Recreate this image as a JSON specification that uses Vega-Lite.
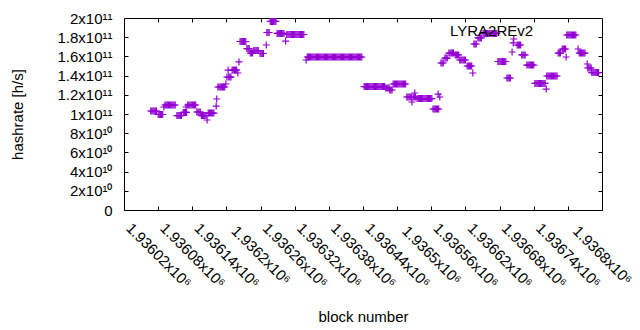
{
"$schema": "https://vega.github.io/schema/vega-lite/v6.json",
"width": 478,
"height": 192,
"autosize": {"type": "none"},
"padding": {"left": 124, "top": 18, "right": 38, "bottom": 120},
"background": "white",
"config": {
  "view": {"stroke": "black", "strokeWidth": 1},
  "font": "Liberation Sans",
  "axis": {"domain": false, "grid": false, "tickColor": "black", "tickWidth": 1, "tickSize": -4, "labelColor": "black", "labelFont": "Liberation Sans", "labelFontSize": 15, "titleFont": "Liberation Sans", "titleFontSize": 15, "titleFontWeight": "normal", "titleColor": "black", "labelOverlap": false, "labelFlush": false, "labelBound": false}
},
"layer": [
  {
    "data": {"values": [
{"block":1936007,"hashrate":1.031e11},{"block":1936009,"hashrate":1.031e11},{"block":1936011,"hashrate":1.031e11},{"block":1936013,"hashrate":1.031e11},{"block":1936015,"hashrate":1.031e11},{"block":1936017,"hashrate":1.031e11},
{"block":1936020,"hashrate":9.95e10},{"block":1936022,"hashrate":9.95e10},{"block":1936024,"hashrate":9.95e10},{"block":1936026,"hashrate":9.95e10},{"block":1936028,"hashrate":9.95e10},
{"block":1936030,"hashrate":1.073e11},
{"block":1936032,"hashrate":1.094e11},{"block":1936034,"hashrate":1.094e11},{"block":1936036,"hashrate":1.094e11},{"block":1936038,"hashrate":1.094e11},{"block":1936040,"hashrate":1.094e11},{"block":1936042,"hashrate":1.094e11},{"block":1936044,"hashrate":1.094e11},{"block":1936046,"hashrate":1.094e11},{"block":1936048,"hashrate":1.094e11},{"block":1936050,"hashrate":1.094e11},
{"block":1936053,"hashrate":9.84e10},{"block":1936055,"hashrate":9.84e10},{"block":1936057,"hashrate":9.84e10},{"block":1936059,"hashrate":9.84e10},{"block":1936061,"hashrate":9.84e10},
{"block":1936064,"hashrate":1.016e11},{"block":1936066,"hashrate":1.016e11},{"block":1936068,"hashrate":1.016e11},{"block":1936069,"hashrate":1.073e11},{"block":1936070,"hashrate":1.016e11},
{"block":1936072,"hashrate":1.094e11},{"block":1936074,"hashrate":1.094e11},{"block":1936076,"hashrate":1.094e11},{"block":1936078,"hashrate":1.094e11},{"block":1936080,"hashrate":1.094e11},{"block":1936082,"hashrate":1.094e11},{"block":1936084,"hashrate":1.094e11},{"block":1936086,"hashrate":1.094e11},
{"block":1936088,"hashrate":1.021e11},{"block":1936090,"hashrate":1.021e11},{"block":1936092,"hashrate":1.021e11},{"block":1936094,"hashrate":1.021e11},
{"block":1936096,"hashrate":9.84e10},{"block":1936098,"hashrate":9.84e10},{"block":1936100,"hashrate":9.84e10},{"block":1936102,"hashrate":9.84e10},{"block":1936104,"hashrate":9.84e10},{"block":1936106,"hashrate":9.375e10},
{"block":1936108,"hashrate":1.01e11},{"block":1936110,"hashrate":1.01e11},{"block":1936112,"hashrate":1.01e11},{"block":1936114,"hashrate":1.01e11},{"block":1936116,"hashrate":1.01e11},{"block":1936118,"hashrate":1.01e11},
{"block":1936122,"hashrate":1.083e11},{"block":1936123,"hashrate":1.156e11},
{"block":1936125,"hashrate":1.281e11},{"block":1936127,"hashrate":1.281e11},{"block":1936129,"hashrate":1.281e11},{"block":1936131,"hashrate":1.281e11},{"block":1936133,"hashrate":1.281e11},{"block":1936135,"hashrate":1.281e11},{"block":1936137,"hashrate":1.281e11},{"block":1936139,"hashrate":1.3125e11},
{"block":1936141,"hashrate":1.385e11},{"block":1936143,"hashrate":1.458e11},{"block":1936144,"hashrate":1.385e11},{"block":1936146,"hashrate":1.385e11},{"block":1936148,"hashrate":1.385e11},
{"block":1936150,"hashrate":1.458e11},{"block":1936152,"hashrate":1.458e11},{"block":1936154,"hashrate":1.458e11},{"block":1936156,"hashrate":1.458e11},{"block":1936158,"hashrate":1.458e11},{"block":1936160,"hashrate":1.427e11},
{"block":1936162,"hashrate":1.542e11},
{"block":1936164,"hashrate":1.755e11},{"block":1936166,"hashrate":1.755e11},{"block":1936168,"hashrate":1.755e11},{"block":1936170,"hashrate":1.755e11},{"block":1936172,"hashrate":1.755e11},{"block":1936174,"hashrate":1.755e11},
{"block":1936176,"hashrate":1.682e11},{"block":1936178,"hashrate":1.682e11},{"block":1936180,"hashrate":1.682e11},
{"block":1936182,"hashrate":1.635e11},{"block":1936184,"hashrate":1.635e11},{"block":1936186,"hashrate":1.635e11},
{"block":1936188,"hashrate":1.661e11},{"block":1936190,"hashrate":1.661e11},{"block":1936192,"hashrate":1.661e11},{"block":1936194,"hashrate":1.661e11},{"block":1936196,"hashrate":1.661e11},
{"block":1936199,"hashrate":1.63e11},{"block":1936201,"hashrate":1.63e11},{"block":1936203,"hashrate":1.63e11},{"block":1936205,"hashrate":1.63e11},
{"block":1936210,"hashrate":1.719e11},
{"block":1936211,"hashrate":1.849e11},{"block":1936213,"hashrate":1.849e11},{"block":1936215,"hashrate":1.849e11},
{"block":1936217,"hashrate":1.964e11},{"block":1936219,"hashrate":1.964e11},{"block":1936221,"hashrate":1.964e11},{"block":1936223,"hashrate":1.964e11},{"block":1936225,"hashrate":1.964e11},{"block":1936227,"hashrate":1.964e11},
{"block":1936229,"hashrate":1.839e11},{"block":1936231,"hashrate":1.839e11},{"block":1936233,"hashrate":1.839e11},{"block":1936235,"hashrate":1.839e11},{"block":1936237,"hashrate":1.839e11},{"block":1936239,"hashrate":1.839e11},{"block":1936241,"hashrate":1.839e11},
{"block":1936244,"hashrate":1.76e11},
{"block":1936246,"hashrate":1.828e11},{"block":1936248,"hashrate":1.828e11},{"block":1936250,"hashrate":1.828e11},{"block":1936252,"hashrate":1.828e11},{"block":1936254,"hashrate":1.828e11},{"block":1936256,"hashrate":1.828e11},{"block":1936258,"hashrate":1.828e11},{"block":1936260,"hashrate":1.828e11},{"block":1936262,"hashrate":1.828e11},{"block":1936264,"hashrate":1.828e11},{"block":1936266,"hashrate":1.828e11},{"block":1936268,"hashrate":1.828e11},{"block":1936270,"hashrate":1.828e11},{"block":1936272,"hashrate":1.828e11},{"block":1936274,"hashrate":1.828e11},{"block":1936276,"hashrate":1.828e11},
{"block":1936280,"hashrate":1.5625e11},
{"block":1936282,"hashrate":1.594e11},{"block":1936284,"hashrate":1.594e11},{"block":1936286,"hashrate":1.594e11},{"block":1936288,"hashrate":1.594e11},{"block":1936290,"hashrate":1.594e11},{"block":1936292,"hashrate":1.594e11},{"block":1936294,"hashrate":1.594e11},{"block":1936296,"hashrate":1.594e11},{"block":1936298,"hashrate":1.594e11},{"block":1936300,"hashrate":1.594e11},{"block":1936302,"hashrate":1.594e11},{"block":1936304,"hashrate":1.594e11},{"block":1936306,"hashrate":1.594e11},{"block":1936308,"hashrate":1.594e11},{"block":1936310,"hashrate":1.594e11},{"block":1936312,"hashrate":1.594e11},{"block":1936314,"hashrate":1.594e11},{"block":1936316,"hashrate":1.594e11},{"block":1936318,"hashrate":1.594e11},{"block":1936320,"hashrate":1.594e11},{"block":1936322,"hashrate":1.594e11},{"block":1936324,"hashrate":1.594e11},{"block":1936326,"hashrate":1.594e11},{"block":1936328,"hashrate":1.594e11},{"block":1936330,"hashrate":1.594e11},{"block":1936332,"hashrate":1.594e11},{"block":1936334,"hashrate":1.594e11},{"block":1936336,"hashrate":1.594e11},{"block":1936338,"hashrate":1.594e11},{"block":1936340,"hashrate":1.594e11},{"block":1936342,"hashrate":1.594e11},{"block":1936344,"hashrate":1.594e11},{"block":1936346,"hashrate":1.594e11},{"block":1936348,"hashrate":1.594e11},{"block":1936350,"hashrate":1.594e11},{"block":1936352,"hashrate":1.594e11},{"block":1936354,"hashrate":1.594e11},{"block":1936356,"hashrate":1.594e11},{"block":1936358,"hashrate":1.594e11},{"block":1936360,"hashrate":1.594e11},{"block":1936362,"hashrate":1.594e11},{"block":1936364,"hashrate":1.594e11},{"block":1936366,"hashrate":1.594e11},{"block":1936368,"hashrate":1.594e11},{"block":1936370,"hashrate":1.594e11},{"block":1936372,"hashrate":1.594e11},{"block":1936374,"hashrate":1.594e11},{"block":1936376,"hashrate":1.594e11},{"block":1936378,"hashrate":1.594e11},
{"block":1936382,"hashrate":1.286e11},{"block":1936384,"hashrate":1.286e11},{"block":1936386,"hashrate":1.286e11},{"block":1936388,"hashrate":1.286e11},{"block":1936390,"hashrate":1.286e11},{"block":1936392,"hashrate":1.286e11},{"block":1936394,"hashrate":1.286e11},{"block":1936396,"hashrate":1.286e11},{"block":1936398,"hashrate":1.286e11},{"block":1936400,"hashrate":1.286e11},{"block":1936402,"hashrate":1.286e11},{"block":1936404,"hashrate":1.286e11},{"block":1936406,"hashrate":1.286e11},{"block":1936408,"hashrate":1.286e11},{"block":1936410,"hashrate":1.286e11},{"block":1936412,"hashrate":1.286e11},{"block":1936414,"hashrate":1.286e11},{"block":1936416,"hashrate":1.286e11},{"block":1936418,"hashrate":1.286e11},
{"block":1936420,"hashrate":1.271e11},{"block":1936422,"hashrate":1.271e11},{"block":1936424,"hashrate":1.271e11},{"block":1936426,"hashrate":1.271e11},
{"block":1936427,"hashrate":1.25e11},{"block":1936429,"hashrate":1.25e11},{"block":1936431,"hashrate":1.25e11},
{"block":1936433,"hashrate":1.3125e11},{"block":1936435,"hashrate":1.3125e11},{"block":1936437,"hashrate":1.3125e11},{"block":1936439,"hashrate":1.3125e11},{"block":1936441,"hashrate":1.3125e11},{"block":1936443,"hashrate":1.3125e11},{"block":1936445,"hashrate":1.3125e11},{"block":1936447,"hashrate":1.3125e11},{"block":1936449,"hashrate":1.3125e11},{"block":1936451,"hashrate":1.3125e11},{"block":1936453,"hashrate":1.3125e11},{"block":1936455,"hashrate":1.3125e11},
{"block":1936457,"hashrate":1.177e11},{"block":1936459,"hashrate":1.177e11},{"block":1936461,"hashrate":1.177e11},{"block":1936463,"hashrate":1.177e11},{"block":1936465,"hashrate":1.177e11},{"block":1936466,"hashrate":1.125e11},{"block":1936468,"hashrate":1.177e11},{"block":1936470,"hashrate":1.177e11},{"block":1936471,"hashrate":1.219e11},{"block":1936472,"hashrate":1.177e11},
{"block":1936475,"hashrate":1.161e11},{"block":1936477,"hashrate":1.161e11},{"block":1936479,"hashrate":1.161e11},{"block":1936481,"hashrate":1.161e11},{"block":1936483,"hashrate":1.161e11},{"block":1936485,"hashrate":1.161e11},{"block":1936487,"hashrate":1.161e11},{"block":1936489,"hashrate":1.161e11},{"block":1936491,"hashrate":1.161e11},{"block":1936493,"hashrate":1.161e11},{"block":1936495,"hashrate":1.161e11},{"block":1936497,"hashrate":1.161e11},{"block":1936499,"hashrate":1.161e11},{"block":1936501,"hashrate":1.161e11},
{"block":1936503,"hashrate":1.052e11},{"block":1936505,"hashrate":1.052e11},{"block":1936507,"hashrate":1.052e11},{"block":1936509,"hashrate":1.052e11},{"block":1936511,"hashrate":1.052e11},{"block":1936512,"hashrate":1.208e11},{"block":1936513,"hashrate":1.052e11},{"block":1936515,"hashrate":1.177e11},
{"block":1936517,"hashrate":1.531e11},{"block":1936519,"hashrate":1.531e11},{"block":1936521,"hashrate":1.531e11},
{"block":1936524,"hashrate":1.583e11},{"block":1936526,"hashrate":1.583e11},{"block":1936528,"hashrate":1.583e11},
{"block":1936531,"hashrate":1.635e11},{"block":1936533,"hashrate":1.635e11},{"block":1936535,"hashrate":1.635e11},{"block":1936537,"hashrate":1.635e11},{"block":1936539,"hashrate":1.635e11},
{"block":1936542,"hashrate":1.615e11},{"block":1936544,"hashrate":1.615e11},{"block":1936546,"hashrate":1.615e11},{"block":1936548,"hashrate":1.615e11},
{"block":1936550,"hashrate":1.5625e11},{"block":1936552,"hashrate":1.5625e11},{"block":1936554,"hashrate":1.5625e11},{"block":1936556,"hashrate":1.5625e11},{"block":1936558,"hashrate":1.5625e11},{"block":1936560,"hashrate":1.5625e11},
{"block":1936563,"hashrate":1.5e11},{"block":1936565,"hashrate":1.5e11},{"block":1936567,"hashrate":1.5e11},{"block":1936569,"hashrate":1.5e11},{"block":1936571,"hashrate":1.5e11},{"block":1936573,"hashrate":1.427e11},
{"block":1936575,"hashrate":1.729e11},{"block":1936577,"hashrate":1.729e11},{"block":1936579,"hashrate":1.729e11},
{"block":1936582,"hashrate":1.792e11},{"block":1936584,"hashrate":1.792e11},{"block":1936586,"hashrate":1.792e11},{"block":1936588,"hashrate":1.792e11},
{"block":1936591,"hashrate":1.839e11},{"block":1936593,"hashrate":1.839e11},{"block":1936595,"hashrate":1.839e11},{"block":1936597,"hashrate":1.839e11},{"block":1936599,"hashrate":1.839e11},{"block":1936601,"hashrate":1.839e11},{"block":1936603,"hashrate":1.839e11},{"block":1936605,"hashrate":1.839e11},{"block":1936607,"hashrate":1.839e11},{"block":1936609,"hashrate":1.839e11},{"block":1936611,"hashrate":1.839e11},{"block":1936613,"hashrate":1.839e11},{"block":1936615,"hashrate":1.839e11},
{"block":1936617,"hashrate":1.547e11},{"block":1936619,"hashrate":1.547e11},{"block":1936621,"hashrate":1.547e11},{"block":1936623,"hashrate":1.547e11},{"block":1936625,"hashrate":1.547e11},{"block":1936627,"hashrate":1.547e11},{"block":1936629,"hashrate":1.547e11},{"block":1936631,"hashrate":1.547e11},
{"block":1936633,"hashrate":1.375e11},{"block":1936635,"hashrate":1.375e11},{"block":1936637,"hashrate":1.375e11},{"block":1936639,"hashrate":1.375e11},
{"block":1936642,"hashrate":1.646e11},{"block":1936644,"hashrate":1.74e11},{"block":1936645,"hashrate":1.781e11},
{"block":1936651,"hashrate":1.719e11},{"block":1936653,"hashrate":1.719e11},{"block":1936655,"hashrate":1.719e11},{"block":1936657,"hashrate":1.719e11},
{"block":1936659,"hashrate":1.615e11},{"block":1936661,"hashrate":1.615e11},{"block":1936663,"hashrate":1.615e11},{"block":1936665,"hashrate":1.615e11},
{"block":1936668,"hashrate":1.51e11},{"block":1936670,"hashrate":1.51e11},{"block":1936672,"hashrate":1.51e11},{"block":1936674,"hashrate":1.51e11},{"block":1936676,"hashrate":1.51e11},{"block":1936678,"hashrate":1.51e11},{"block":1936680,"hashrate":1.51e11},
{"block":1936682,"hashrate":1.318e11},{"block":1936684,"hashrate":1.318e11},{"block":1936686,"hashrate":1.318e11},{"block":1936688,"hashrate":1.318e11},{"block":1936690,"hashrate":1.318e11},{"block":1936692,"hashrate":1.318e11},{"block":1936694,"hashrate":1.318e11},{"block":1936696,"hashrate":1.318e11},{"block":1936698,"hashrate":1.318e11},{"block":1936700,"hashrate":1.318e11},{"block":1936702,"hashrate":1.26e11},
{"block":1936703,"hashrate":1.396e11},{"block":1936705,"hashrate":1.396e11},{"block":1936707,"hashrate":1.396e11},{"block":1936709,"hashrate":1.396e11},{"block":1936711,"hashrate":1.396e11},{"block":1936713,"hashrate":1.396e11},{"block":1936715,"hashrate":1.396e11},{"block":1936717,"hashrate":1.396e11},{"block":1936719,"hashrate":1.396e11},{"block":1936721,"hashrate":1.396e11},
{"block":1936723,"hashrate":1.635e11},{"block":1936725,"hashrate":1.635e11},{"block":1936727,"hashrate":1.635e11},
{"block":1936730,"hashrate":1.677e11},{"block":1936732,"hashrate":1.677e11},{"block":1936734,"hashrate":1.677e11},{"block":1936736,"hashrate":1.677e11},{"block":1936737,"hashrate":1.594e11},
{"block":1936738,"hashrate":1.823e11},{"block":1936740,"hashrate":1.823e11},{"block":1936742,"hashrate":1.823e11},{"block":1936744,"hashrate":1.823e11},{"block":1936746,"hashrate":1.823e11},{"block":1936748,"hashrate":1.823e11},{"block":1936750,"hashrate":1.823e11},{"block":1936752,"hashrate":1.823e11},{"block":1936754,"hashrate":1.823e11},
{"block":1936758,"hashrate":1.677e11},
{"block":1936760,"hashrate":1.635e11},{"block":1936762,"hashrate":1.635e11},{"block":1936764,"hashrate":1.635e11},{"block":1936766,"hashrate":1.635e11},{"block":1936768,"hashrate":1.635e11},{"block":1936770,"hashrate":1.635e11},
{"block":1936774,"hashrate":1.521e11},
{"block":1936775,"hashrate":1.479e11},{"block":1936777,"hashrate":1.479e11},{"block":1936779,"hashrate":1.479e11},{"block":1936781,"hashrate":1.479e11},
{"block":1936782,"hashrate":1.432e11},{"block":1936784,"hashrate":1.432e11},{"block":1936786,"hashrate":1.432e11},{"block":1936788,"hashrate":1.432e11},{"block":1936790,"hashrate":1.432e11},{"block":1936792,"hashrate":1.432e11},{"block":1936794,"hashrate":1.432e11}
    ]},
    "mark": {"type": "point", "shape": "M-1,0L1,0M0,-1L0,1", "filled": false, "stroke": "#9400d3", "strokeWidth": 1.2, "size": 49, "opacity": 1, "clip": true},
    "encoding": {
      "x": {"field": "block", "type": "quantitative", "scale": {"domain": [1935960, 1936800], "nice": false, "zero": false},
        "axis": {"orient": "bottom", "values": [1936020,1936080,1936140,1936200,1936260,1936320,1936380,1936440,1936500,1936560,1936620,1936680,1936740,1936800],
          "labelExpr": "format(datum.value/1e6, '.5~f') + 'x10⁶'", "labelAngle": 45, "labelAlign": "center", "labelBaseline": "middle", "labelPadding": 49,
          "title": "block number", "titleX": 239, "titleY": 106, "titleBaseline": "middle"}},
      "y": {"field": "hashrate", "type": "quantitative", "scale": {"domain": [0, 200000000000], "nice": false},
        "axis": {"orient": "left", "values": [0,20000000000,40000000000,60000000000,80000000000,100000000000,120000000000,140000000000,160000000000,180000000000,200000000000],
          "labelExpr": "datum.value == 0 ? '0' : (datum.value >= 1e11 ? format(datum.value/1e11, '.1~f') + 'x10¹¹' : format(datum.value/1e10, '.0f') + 'x10¹⁰')",
          "labelPadding": 16, "labelAlign": "right", "labelBaseline": "middle",
          "title": "hashrate [h/s]", "titleAngle": -90, "titleX": -107, "titleY": 96, "titleAlign": "center", "titleBaseline": "middle"}}
    }
  },
  {
    "data": {"values": [{"block": 1936679, "hashrate": 186500000000, "label": "LYRA2REv2"}]},
    "mark": {"type": "text", "align": "right", "baseline": "middle", "fontSize": 15, "font": "Liberation Sans", "color": "black"},
    "encoding": {
      "x": {"field": "block", "type": "quantitative",
        "axis": {"orient": "top", "labels": false, "title": null, "values": [1936020,1936080,1936140,1936200,1936260,1936320,1936380,1936440,1936500,1936560,1936620,1936680,1936740]}},
      "y": {"field": "hashrate", "type": "quantitative",
        "axis": {"orient": "right", "labels": false, "title": null, "values": [20000000000,40000000000,60000000000,80000000000,100000000000,120000000000,140000000000,160000000000,180000000000]}},
      "text": {"field": "label"}
    }
  }
],
"resolve": {"axis": {"x": "independent", "y": "independent"}}
}
